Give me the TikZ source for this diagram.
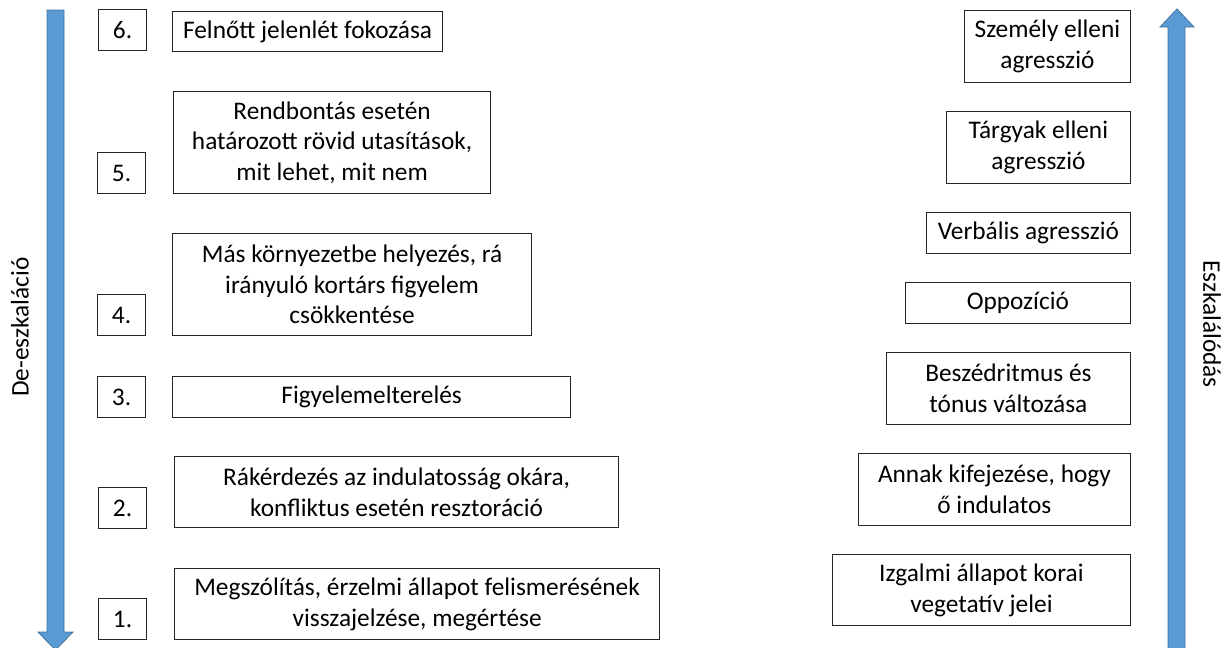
\documentclass[tikz,border=0pt]{standalone}
\usepackage{fontspec}
\setmainfont{Carlito}
\usepackage{xcolor}
\usepackage{tikz}
\usetikzlibrary{arrows.meta,positioning}

\definecolor{arrowblue}{HTML}{5B9BD5}
\definecolor{arrowedge}{HTML}{41719C}

\begin{document}
\begin{tikzpicture}[
    x=0.75pt,y=-0.75pt,
    box/.style={draw=black!85, line width=0.9pt, inner sep=2pt, align=center, font=\fontsize{19}{23}\selectfont},
    numbox/.style={box, anchor=north west, minimum width=36pt, minimum height=30.75pt},
    leftbox/.style={box, anchor=north west},
    rightbox/.style={box, anchor=north east},
    bigarrow/.style={fill=arrowblue, draw=arrowedge, line width=0.6pt, line join=miter},
    sidelabel/.style={font=\fontsize{19}{23}\selectfont}
  ]
    \useasboundingbox (0,0) rectangle (1231,647);

    % de-escalation side
    \draw[bigarrow] (47,10) -- (64,10) -- (64,632) -- (73,632) -- (55.5,650) -- (38,632) -- (47,632) -- cycle;
    \node[sidelabel, rotate=90] (dlabel) at (20,327) {De-eszkaláció};

    \node[numbox] (n6) at (98,9) {6.};
    \node[leftbox, minimum width=202.5pt, minimum height=30pt] (t6) at (172,11) {Felnőtt jelenlét fokozása};
    \node[numbox] (n5) at (97,152) {5.};
    \node[leftbox, minimum width=237.75pt, minimum height=76.5pt] (t5) at (173,91) {Rendbontás esetén\\határozott rövid utasítások,\\mit lehet, mit nem};
    \node[numbox] (n4) at (97,294) {4.};
    \node[leftbox, minimum width=269.25pt, minimum height=76.5pt] (t4) at (172,233) {Más környezetbe helyezés, rá\\irányuló kortárs figyelem\\csökkentése};
    \node[numbox] (n3) at (97,376) {3.};
    \node[leftbox, minimum width=298.5pt, minimum height=30.75pt] (t3) at (172,376) {Figyelemelterelés};
    \node[numbox] (n2) at (98,487) {2.};
    \node[leftbox, minimum width=333pt, minimum height=53.25pt] (t2) at (174,456) {Rákérdezés az indulatosság okára,\\konfliktus esetén resztoráció};
    \node[numbox] (n1) at (98,598) {1.};
    \node[leftbox, minimum width=363.75pt, minimum height=53.25pt] (t1) at (174,568) {Megszólítás, érzelmi állapot felismerésének\\visszajelzése, megértése};

    % escalation side
    \draw[bigarrow] (1168,650) -- (1168,27) -- (1160,27) -- (1177,9) -- (1194,27) -- (1185,27) -- (1185,650) -- cycle;
    \node[sidelabel, rotate=-90] (elabel) at (1212,324) {Eszkalálódás};

    \node[rightbox, minimum width=124.5pt, minimum height=54pt] (r6) at (1131,10) {Személy elleni\\agresszió};
    \node[rightbox, minimum width=138pt, minimum height=54pt] (r5) at (1131,111) {Tárgyak elleni\\agresszió};
    \node[rightbox, minimum width=153pt, minimum height=30.75pt] (r4) at (1131,212) {Verbális agresszió};
    \node[rightbox, minimum width=168.75pt, minimum height=30.75pt] (r3) at (1131,282) {Oppozíció};
    \node[rightbox, minimum width=183pt, minimum height=54pt] (r2) at (1131,352) {Beszédritmus és\\tónus változása};
    \node[rightbox, minimum width=204pt, minimum height=54pt] (r1) at (1131,453) {Annak kifejezése, hogy\\ő indulatos};
    \node[rightbox, minimum width=223.5pt, minimum height=53.25pt] (r0) at (1131,554) {Izgalmi állapot korai\\vegetatív jelei};
  \end{tikzpicture}
\end{document}
